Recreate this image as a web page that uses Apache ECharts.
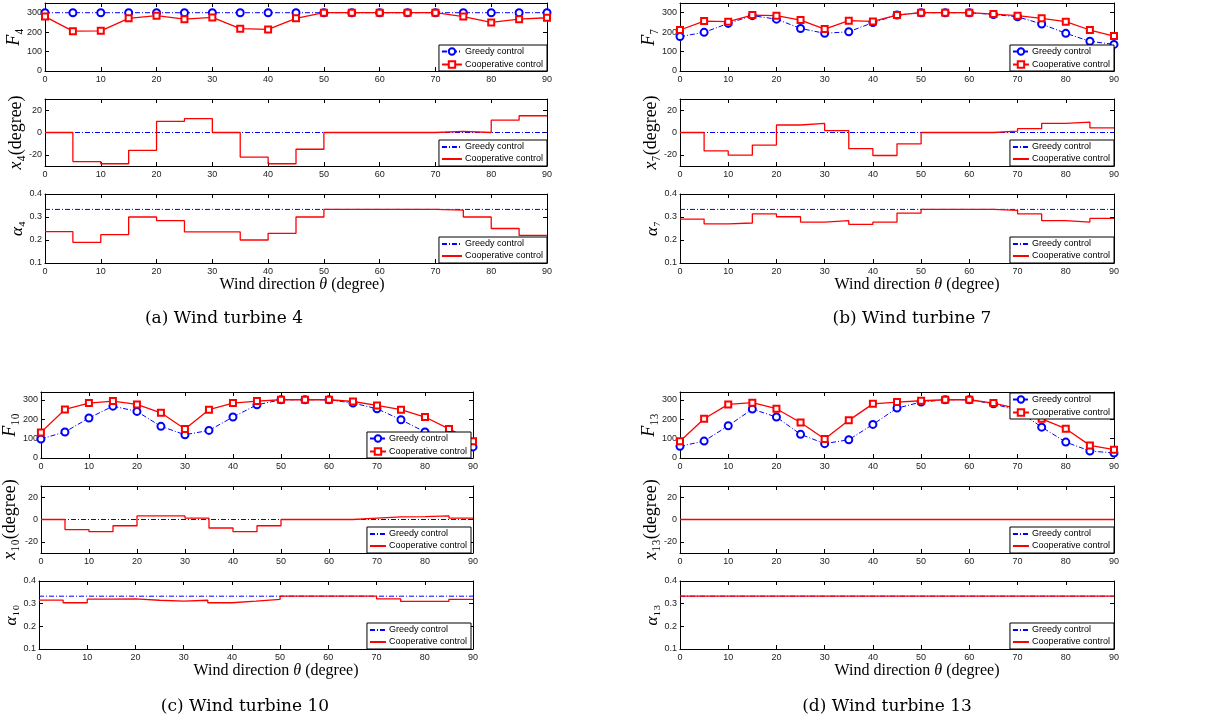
<!DOCTYPE html>
<html><head><meta charset="utf-8">
<script src="https://cdn.jsdelivr.net/npm/echarts@6/dist/echarts.min.js"></script>
<style>html,body{margin:0;padding:0;background:#fff}#c{width:1205px;height:724px}</style>
</head><body><div id="c"></div>
<script>
// ---------------- data ----------------
const theta = [0,5,10,15,20,25,30,35,40,45,50,55,60,65,70,75,80,85,90];
const xTicks = [0,10,20,30,40,50,60,70,80,90];
const fTicks = [0,100,200,300];
const dTicks = [-20,0,20];
const aTicks = [0.1,0.2,0.3,0.4];

// (a) wind turbine 4
const F4_greedy = [300,300,300,300,300,300,300,300,300,300,300,300,300,300,300,300,300,300,300];
const F4_coop   = [280,205,207,271,285,267,276,218,214,271,300,300,300,300,300,280,250,267,274];
const x4_greedy = [0,0,0,0,0,0,0,0,0,0,0,0,0,0,0,0,0,0,0];
const x4_coop   = [0,-26,-28,-16,10,12.5,0,-22,-28,-15,0,0,0,0,1,0,11,15,15];
const a4_greedy = [0.333,0.333,0.333,0.333,0.333,0.333,0.333,0.333,0.333,0.333,0.333,0.333,0.333,0.333,0.333,0.333,0.333,0.333,0.333];
const a4_coop   = [0.236,0.19,0.223,0.30,0.284,0.235,0.235,0.20,0.229,0.30,0.333,0.333,0.333,0.333,0.33,0.30,0.25,0.22,0.22];

// (b) wind turbine 7
const F7_greedy = [177,199,245,285,267,219,194,202,249,288,300,300,300,291,279,242,194,153,137];
const F7_coop   = [211,257,254,288,285,262,216,259,255,288,300,300,300,293,285,271,254,211,180];
const x7_greedy = [0,0,0,0,0,0,0,0,0,0,0,0,0,0,0,0,0,0,0];
const x7_coop   = [0,-16.5,-20.3,-11.3,6.7,8.1,1.7,-14.5,-20.6,-10.1,0,0,0,1.2,3.5,8.1,9.3,4.1,4.1];
const a7_greedy = [0.333,0.333,0.333,0.333,0.333,0.333,0.333,0.333,0.333,0.333,0.333,0.333,0.333,0.333,0.333,0.333,0.333,0.333,0.333];
const a7_coop   = [0.291,0.27,0.274,0.314,0.301,0.278,0.284,0.268,0.278,0.317,0.333,0.333,0.333,0.329,0.314,0.284,0.278,0.294,0.294];

// (c) wind turbine 10
const F10_greedy = [98,134,206,267,240,163,120,142,211,274,300,300,300,283,254,197,134,80,57];
const F10_coop   = [132,250,283,293,276,233,149,249,283,293,300,300,300,291,271,249,211,150,86];
const x10_greedy = [0,0,0,0,0,0,0,0,0,0,0,0,0,0,0,0,0,0,0];
const x10_coop   = [0,-9,-10.9,-5.6,3.2,3.2,1.2,-7.6,-10.9,-5.6,0,0,0,1.2,2.4,2.6,3.2,1.2,1.2];
const a10_greedy = [0.333,0.333,0.333,0.333,0.333,0.333,0.333,0.333,0.333,0.333,0.333,0.333,0.333,0.333,0.333,0.333,0.333,0.333,0.333];
const a10_coop   = [0.316,0.304,0.32,0.321,0.315,0.311,0.315,0.304,0.311,0.319,0.333,0.333,0.333,0.333,0.321,0.31,0.31,0.319,0.319];

// (d) wind turbine 13
const F13_greedy = [60,87,166,252,211,122,74,94,173,257,288,300,300,279,245,159,82,36,26];
const F13_coop   = [86,202,276,285,254,183,98,194,279,288,295,300,300,283,254,202,151,65,43];
const x13_greedy = [0,0,0,0,0,0,0,0,0,0,0,0,0,0,0,0,0,0,0];
const x13_coop   = [0,0,0,0,0,0,0,0,0,0,0,0,0,0,0,0,0,0,0];
const a13_greedy = [0.333,0.333,0.333,0.333,0.333,0.333,0.333,0.333,0.333,0.333,0.333,0.333,0.333,0.333,0.333,0.333,0.333,0.333,0.333];
const a13_coop   = [0.333,0.333,0.333,0.333,0.333,0.333,0.333,0.333,0.333,0.333,0.333,0.333,0.333,0.333,0.333,0.333,0.333,0.333,0.333];

const legendLabels = ['Greedy control','Cooperative control'];
const captions = ['(a) Wind turbine 4','(b) Wind turbine 7','(c) Wind turbine 10','(d) Wind turbine 13'];
const xName = 'Wind direction {i|θ} (degree)';

// ---------------- layout / build ----------------
const W = 1205, H = 724;
const BLUE = '#0000ff', RED = '#ff0000';
const SANS = 'Liberation Sans, Arial, sans-serif';
const SERIF = 'Liberation Serif, DejaVu Serif, serif';
const grids = [], xAxes = [], yAxes = [], series = [], legends = [], graphics = [];

function addPlot(c) {
  const g = grids.length;
  grids.push({left: c.left, top: c.top, width: c.right - c.left, height: c.bottom - c.top});
  const axLine = {show: true, onZero: false, lineStyle: {color: '#000', width: 1}};
  const tick = v => ({show: true, inside: true, length: 4, customValues: v, lineStyle: {color: '#000', width: 1}});
  const lab = {fontFamily: SANS, fontSize: 9, color: '#222'};
  const xb = {type: 'value', gridIndex: g, position: 'bottom', min: 0, max: 90,
    axisLine: axLine, axisTick: tick(xTicks), splitLine: {show: false},
    axisLabel: Object.assign({customValues: xTicks, margin: 4}, lab)};
  if (c.xName) {
    Object.assign(xb, {name: xName, nameLocation: 'middle', nameGap: 8,
      nameTextStyle: {fontFamily: SERIF, fontSize: 16, color: '#000', padding: [0, 0, 0, c.xShift * 2],
        rich: {i: {fontFamily: SERIF, fontSize: 16, fontStyle: 'italic', color: '#000'}}}});
  }
  xAxes.push(xb);
  xAxes.push({type: 'value', gridIndex: g, position: 'top', min: 0, max: 90,
    axisLine: axLine, axisTick: tick(xTicks), axisLabel: {show: false}, splitLine: {show: false}});
  yAxes.push({type: 'value', gridIndex: g, position: 'left', min: c.ymin, max: c.ymax,
    axisLine: axLine, axisTick: tick(c.yTicks), splitLine: {show: false},
    axisLabel: Object.assign({customValues: c.yTicks, margin: 3, formatter: c.fmt}, lab),
    name: c.yName, nameLocation: 'middle', nameRotate: 90, nameGap: c.nameGap,
    nameTextStyle: {fontFamily: SERIF, fontSize: c.nameSize, color: '#000',
      rich: {i: {fontFamily: SERIF, fontSize: c.nameSize, fontStyle: 'italic', color: '#000'}}}});
  yAxes.push({type: 'value', gridIndex: g, position: 'right', min: c.ymin, max: c.ymax,
    axisLine: axLine, axisTick: tick(c.yTicks), axisLabel: {show: false}, splitLine: {show: false}});

  const gName = 'g' + g, cName = 'c' + g;
  const m = !!c.markers;
  series.push({type: 'line', name: gName, xAxisIndex: 2 * g, yAxisIndex: 2 * g,
    data: theta.map((t, i) => [t, c.G[i]]),
    symbol: 'emptyCircle', symbolSize: 7, showSymbol: m,
    step: c.stairs ? 'end' : false,
    lineStyle: {color: BLUE, width: 1, type: [5, 2, 1, 2]},
    itemStyle: {color: BLUE, borderColor: BLUE, borderWidth: 1, opacity: m ? 1 : 0},
    silent: true, animation: false, z: 2});
  series.push({type: 'line', name: cName, xAxisIndex: 2 * g, yAxisIndex: 2 * g,
    data: theta.map((t, i) => [t, c.C[i]]),
    symbol: 'emptyRect', symbolSize: 6, showSymbol: m,
    step: c.stairs ? 'end' : false,
    lineStyle: {color: RED, width: 1.3, type: 'solid'},
    itemStyle: {color: RED, borderColor: RED, borderWidth: 1, opacity: m ? 1 : 0},
    silent: true, animation: false, z: 3});

  const leg = {data: [gName, cName], orient: 'vertical', right: W - c.legRight,
    backgroundColor: '#fff', borderColor: '#000', borderWidth: 1, borderRadius: 0,
    padding: [2, 4, 2, 2], itemGap: m ? 4 : 2, itemWidth: c.legIconW, itemHeight: m ? 8 : 10, selectedMode: false,
    formatter: n => n[0] === 'g' ? legendLabels[0] : legendLabels[1],
    textStyle: {fontFamily: SANS, fontSize: 9, color: '#000', padding: [0, 0, 0, -2]}};
  if (!m) leg.itemStyle = {opacity: 0};
  if (c.legTop !== undefined) leg.top = c.legTop; else leg.bottom = H - c.legBottom;
  legends.push(leg);
}

function addPanel(p) {
  const rows = [
    {top: p.tops[0], bottom: p.bots[0], ymin: 0, ymax: p.fmax, yTicks: fTicks, fmt: v => String(v),
     yName: '{i|F}' + p.sub, nameGap: p.gaps[0], nameSize: 18, G: p.F[0], C: p.F[1], markers: true},
    {top: p.tops[1], bottom: p.bots[1], ymin: -30, ymax: 30, yTicks: dTicks, fmt: v => String(v),
     yName: '{i|x}' + p.sub + '(degree)', nameGap: p.gaps[1], nameSize: 18, G: p.X[0], C: p.X[1], stairs: true},
    {top: p.tops[2], bottom: p.bots[2], ymin: 0.1, ymax: 0.4, yTicks: aTicks, fmt: v => v.toFixed(1),
     yName: '{i|α}' + p.sub, nameGap: p.gaps[2], nameSize: 17, G: p.A[0], C: p.A[1], stairs: true,
     xName: true, xShift: p.xShift}
  ];
  rows.forEach((r, k) => {
    const lg = p.legs[k];
    addPlot(Object.assign({left: p.left, right: p.right, legRight: lg.r, legBottom: lg.b, legTop: lg.t,
      legIconW: p.iconW}, r));
  });
  graphics.push({type: 'text', x: p.capX, y: p.capY,
    style: {text: p.caption, fontFamily: 'DejaVu Serif, serif', fontSize: 17, fill: '#000',
      textAlign: 'center', textVerticalAlign: 'middle'}});
}

addPanel({left: 45, right: 547, tops: [3, 99, 194], bots: [71, 166, 263], fmax: 350, sub: '₄',
  gaps: [22, 12, 17], xShift: 6, iconW: 20,
  F: [F4_greedy, F4_coop], X: [x4_greedy, x4_coop], A: [a4_greedy, a4_coop],
  legs: [{r: 547, b: 71}, {r: 547, b: 166}, {r: 547, b: 263}],
  caption: captions[0], capX: 224, capY: 319});
addPanel({left: 680, right: 1114, tops: [3, 99, 194], bots: [71, 166, 263], fmax: 350, sub: '₇',
  gaps: [18, 13, 13], xShift: 20, iconW: 16,
  F: [F7_greedy, F7_coop], X: [x7_greedy, x7_coop], A: [a7_greedy, a7_coop],
  legs: [{r: 1114, b: 71}, {r: 1114, b: 166}, {r: 1114, b: 263}],
  caption: captions[1], capX: 912, capY: 319});
addPanel({left: 39, right: 473, tops: [392, 486, 581], bots: [458, 553, 649], fmax: 340, sub: '₁₀',
  gaps: [19, 22, 14], xShift: 20, iconW: 16,
  F: [F10_greedy, F10_coop], X: [x10_greedy, x10_coop], A: [a10_greedy, a10_coop],
  legs: [{r: 471, b: 458}, {r: 471, b: 553}, {r: 471, b: 649}],
  caption: captions[2], capX: 245, capY: 707});
addPanel({left: 680, right: 1114, tops: [392, 486, 581], bots: [458, 553, 649], fmax: 340, sub: '₁₃',
  gaps: [17, 12, 15], xShift: 20, iconW: 16,
  F: [F13_greedy, F13_coop], X: [x13_greedy, x13_coop], A: [a13_greedy, a13_coop],
  legs: [{r: 1114, t: 393}, {r: 1114, b: 553}, {r: 1114, b: 649}],
  caption: captions[3], capX: 887, capY: 707});

const chart = echarts.init(document.getElementById('c'));
chart.setOption({
  animation: false,
  backgroundColor: '#fff',
  grid: grids, xAxis: xAxes, yAxis: yAxes, series: series, legend: legends,
  graphic: graphics
});
</script></body></html>
